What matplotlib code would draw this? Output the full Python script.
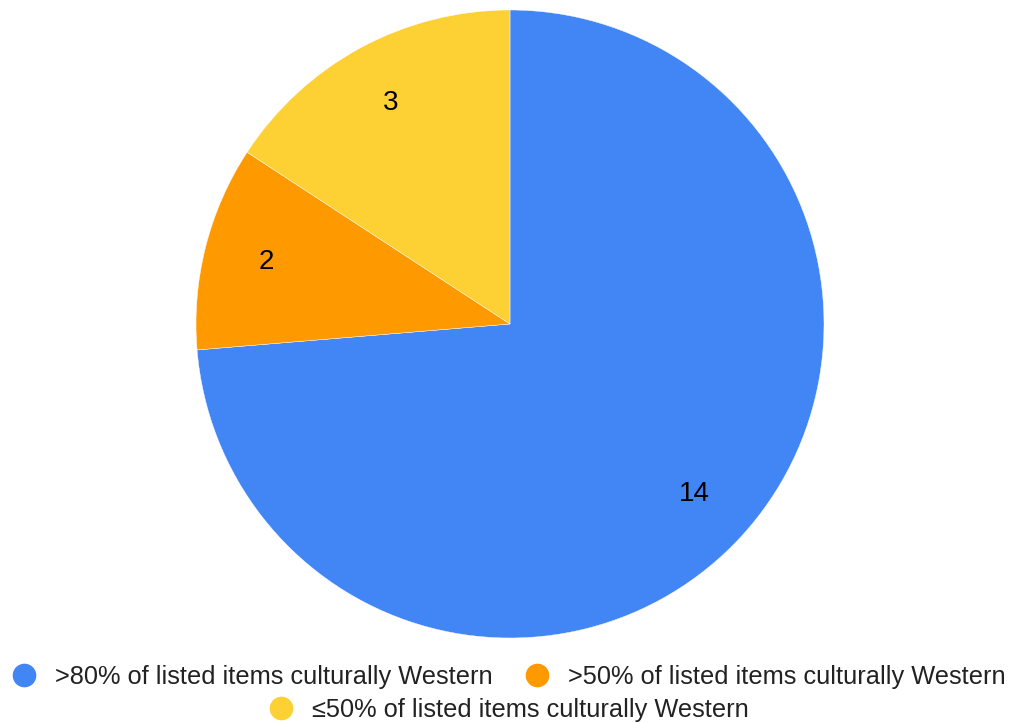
import matplotlib
matplotlib.use("Agg")
import matplotlib.pyplot as plt
from matplotlib.lines import Line2D

plt.rcParams['font.family'] = ['Liberation Sans', 'DejaVu Sans']

labels = [">80% of listed items culturally Western",
          ">50% of listed items culturally Western",
          "\u226450% of listed items culturally Western"]
counts = [14, 2, 3]
colors = ["#4285F4", "#FF9900", "#FDD033"]

W, H = 1017, 723
fig = plt.figure(figsize=(W/100, H/100), dpi=100)
# pie centre (510,324) px, radius 314 px
cx, cy, r = 510, 324, 314
ax = fig.add_axes([(cx-r)/W, (H-cy-r)/H, 2*r/W, 2*r/H])
total = sum(counts)
wedges, texts, autotexts = ax.pie(counts, colors=colors, startangle=90, counterclock=False,
                                  radius=1.0, pctdistance=0.8,
                                  autopct=lambda p: "%d" % round(p*total/100),
                                  wedgeprops=dict(linewidth=0.3, edgecolor="white"),
                                  textprops=dict(fontsize=20, color="black"))
ax.set_xlim(-1, 1)
ax.set_ylim(-1, 1)
ax.set_aspect("equal")
ax.axis("off")

handles = [Line2D([], [], marker="o", ls="", ms=16, mfc=c, mec=c) for c in colors]
leg1 = fig.legend(handles[:2], labels[:2], ncol=2, loc="center", bbox_to_anchor=(0.5, 1-677/H),
                  frameon=False, fontsize=18.3, handletextpad=0.7, columnspacing=1.25,
                  handlelength=1.0, labelcolor="#222222")
leg2 = fig.legend(handles[2:], labels[2:], loc="center", bbox_to_anchor=(0.5, 1-710/H),
                  frameon=False, fontsize=18.3, handletextpad=0.7, handlelength=1.0,
                  labelcolor="#222222")
fig.savefig("out.png", dpi=100)
